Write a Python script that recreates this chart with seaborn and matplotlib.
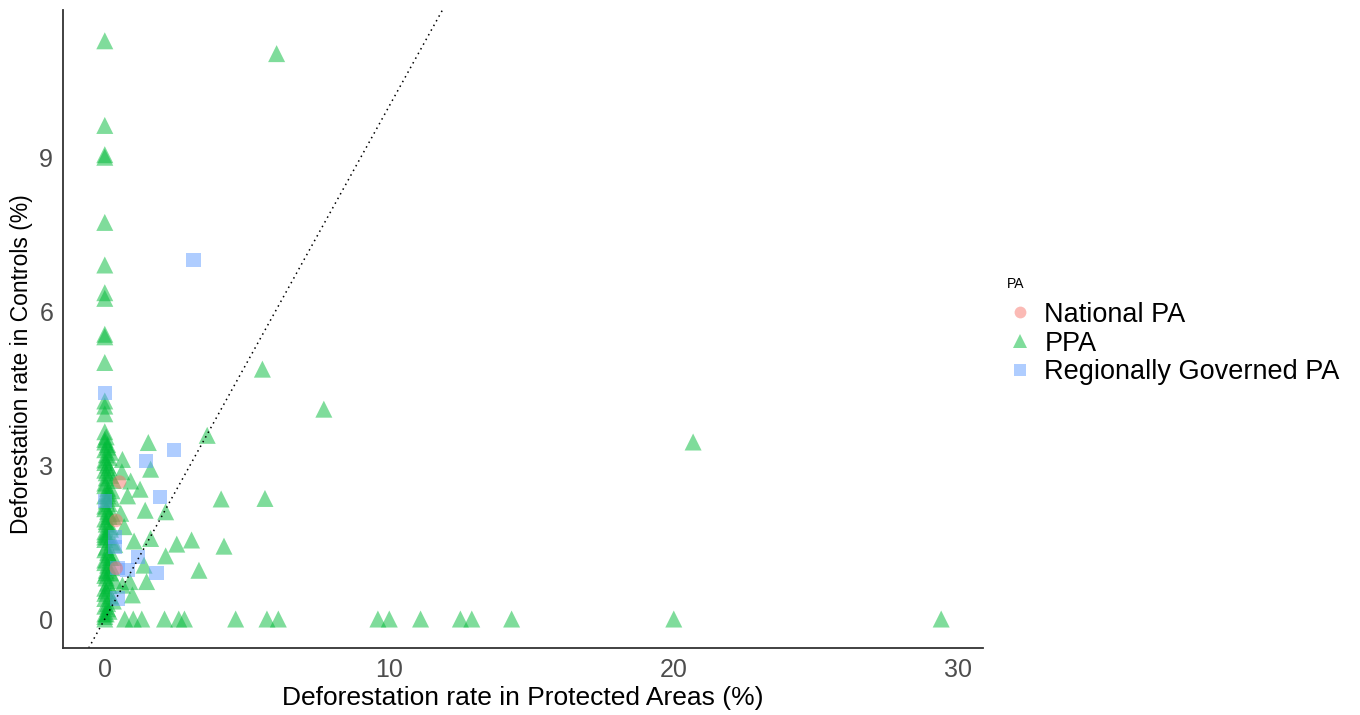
import matplotlib
matplotlib.use("Agg")
import matplotlib.pyplot as plt
from matplotlib.lines import Line2D
import seaborn as sns
import pandas as pd

# Deforestation rates (%) in protected areas (x) vs. matched controls (y)
national_x = [0.52, 0.40, 0.40]
national_y = [2.67, 1.92, 0.99]

ppa_x = [
    # stacked at (near) zero deforestation inside the PA
    0.0, 0.0, 0.0, 0.0, 0.0, 0.0, 0.0, 0.0, 0.0, 0.0, 0.0, 0.0, 0.0, 0.0,
    0.0, 0.05, 0.0, 0.1, 0.0, 0.05, 0.15, 0.0, 0.1, 0.0, 0.2, 0.05, 0.0,
    0.1, 0.25, 0.0, 0.05, 0.15, 0.0, 0.1, 0.3, 0.0, 0.05, 0.2, 0.0, 0.1,
    0.0, 0.25, 0.05, 0.0, 0.15, 0.3, 0.0, 0.1, 0.05, 0.2, 0.0, 0.35, 0.1,
    0.0, 0.05, 0.2, 0.0, 0.1, 0.0, 0.15, 0.05, 0.0, 0.0,
    0.0, 0.1, 0.2, 0.0, 0.15, 0.05, 0.3, 0.0, 0.1, 0.25, 0.0, 0.15, 0.05,
    0.2, 0.0, 0.35, 0.1, 0.0, 0.25, 0.05, 0.15, 0.0, 0.3, 0.1, 0.0, 0.2,
    0.05, 0.0, 0.15, 0.1,
    # scattered sites
    6.04, 5.54, 7.70, 3.60, 20.68, 1.53, 0.62, 1.61, 0.60, 0.91, 1.24,
    0.80, 4.09, 5.63, 1.42, 2.14, 0.56, 0.68, 1.03, 1.61, 2.53, 3.05,
    4.19, 2.14, 1.38, 3.31, 0.88, 1.47, 0.97, 0.62,
    # no deforestation in controls
    0.7, 1.0, 1.3, 2.1, 2.6, 2.8, 4.6, 5.7, 6.1, 9.6, 10.0, 11.1, 12.5,
    12.9, 14.3, 20.0, 29.4,
]
ppa_y = [
    11.27, 9.62, 9.05, 9.0, 7.73, 6.9, 6.36, 6.25, 5.55, 5.5, 5.0, 4.25,
    4.15, 4.0,
    3.65, 3.55, 3.45, 3.4, 3.3, 3.2, 3.15, 3.05, 3.0, 2.9, 2.8, 2.75, 2.65,
    2.55, 2.5, 2.4, 2.3, 2.25, 2.15, 2.1, 2.0, 1.95, 1.85, 1.8, 1.7, 1.6,
    1.55, 1.5, 1.4, 1.35, 1.25, 1.2, 1.1, 1.05, 0.95, 0.9, 0.85, 0.75, 0.7,
    0.6, 0.55, 0.45, 0.4, 0.3, 0.25, 0.15, 0.1, 0.05, 0.0,
    3.5, 3.35, 3.25, 3.1, 2.95, 2.85, 2.7, 2.6, 2.45, 2.35, 2.2, 2.05, 1.9,
    1.75, 1.65, 1.45, 1.3, 1.15, 1.0, 0.8, 0.65, 0.5, 0.35, 0.2, 1.6, 1.2,
    0.9, 0.1, 2.0, 2.4,
    11.02, 4.87, 4.09, 3.58, 3.45, 3.44, 3.11, 2.92, 2.87, 2.69, 2.53,
    2.40, 2.34, 2.35, 2.12, 2.09, 2.06, 1.80, 1.52, 1.57, 1.46, 1.54,
    1.42, 1.23, 1.05, 0.95, 0.73, 0.73, 0.47, 0.66,
    0, 0, 0, 0, 0, 0, 0, 0, 0, 0, 0, 0, 0, 0, 0, 0, 0,
]

regional_x = [3.12, 2.43, 1.44, 1.93, 1.17, 0.80, 1.82, 0.45, 0.0, 0.0, 0.35, 0.35, 0.45]
regional_y = [7.00, 3.29, 3.08, 2.38, 1.21, 0.95, 0.89, 0.40, 4.40, 2.30, 1.60, 1.40, 1.00]

groups = ["National PA", "PPA", "Regionally Governed PA"]
draw_order = ["PPA", "Regionally Governed PA", "National PA"]
colors = {"National PA": "#F8766D", "PPA": "#00BA38", "Regionally Governed PA": "#619CFF"}
markers = {"National PA": "o", "PPA": "^", "Regionally Governed PA": "s"}
sizes = {"National PA": 95, "PPA": 150, "Regionally Governed PA": 105}

df = pd.concat([
    pd.DataFrame({"pa_rate": national_x, "ctrl_rate": national_y, "PA": "National PA"}),
    pd.DataFrame({"pa_rate": ppa_x, "ctrl_rate": ppa_y, "PA": "PPA"}),
    pd.DataFrame({"pa_rate": regional_x, "ctrl_rate": regional_y, "PA": "Regionally Governed PA"}),
], ignore_index=True)

sns.set_style("white")
plt.rcParams["font.family"] = ["Liberation Sans", "DejaVu Sans"]

fig = plt.figure(figsize=(13.6, 7.15), dpi=100)
ax = fig.add_axes([0.0463, 0.0937, 0.6765, 0.8923])

for g in draw_order:
    sub = df[df["PA"] == g]
    sns.scatterplot(data=sub, x="pa_rate", y="ctrl_rate", ax=ax,
                    marker=markers[g], s=sizes[g], color=colors[g],
                    alpha=0.5, edgecolor="none", linewidth=0, legend=False)

# 1:1 reference line
ax.axline((0, 0), slope=1, color="black", linestyle=(0, (1, 2.5)), linewidth=1.1)

ax.set_xlim(-1.47, 30.87)
ax.set_ylim(-0.565, 11.87)
ax.set_xticks([0, 10, 20, 30])
ax.set_yticks([0, 3, 6, 9])

for side in ["top", "right"]:
    ax.spines[side].set_visible(False)
for side in ["left", "bottom"]:
    ax.spines[side].set_color("#333333")
    ax.spines[side].set_linewidth(1.3)

ax.tick_params(axis="both", which="major", direction="out", length=4,
               width=1.1, color="#333333", pad=3, labelcolor="#4d4d4d",
               labelsize=18)

ax.set_xlabel("Deforestation rate in Protected Areas (%)",
              fontsize=19, color="black", labelpad=3)
ax.set_ylabel("Deforestation rate in Controls (%)",
              fontsize=16.5, color="black")
ax.yaxis.set_label_coords(-0.033, 0.445)

handles = [
    Line2D([], [], linestyle="none", marker=markers[g], color=colors[g],
           alpha=0.5, markeredgewidth=0,
           markersize={"National PA": 8.5, "PPA": 10, "Regionally Governed PA": 8.5}[g])
    for g in groups
]
leg = fig.legend(handles, groups, title="PA", loc="upper left",
                 bbox_to_anchor=(0.740, 0.613), frameon=False,
                 fontsize=19.5, title_fontsize=10, handlelength=1.0,
                 handletextpad=0.4, labelspacing=0.1, borderaxespad=0,
                 borderpad=0)
leg._legend_box.align = "left"
leg._legend_box.sep = 8
for t in leg.get_texts():
    t.set_color("black")
leg.get_title().set_color("black")

fig.savefig("out.png", dpi=100, facecolor="white")
